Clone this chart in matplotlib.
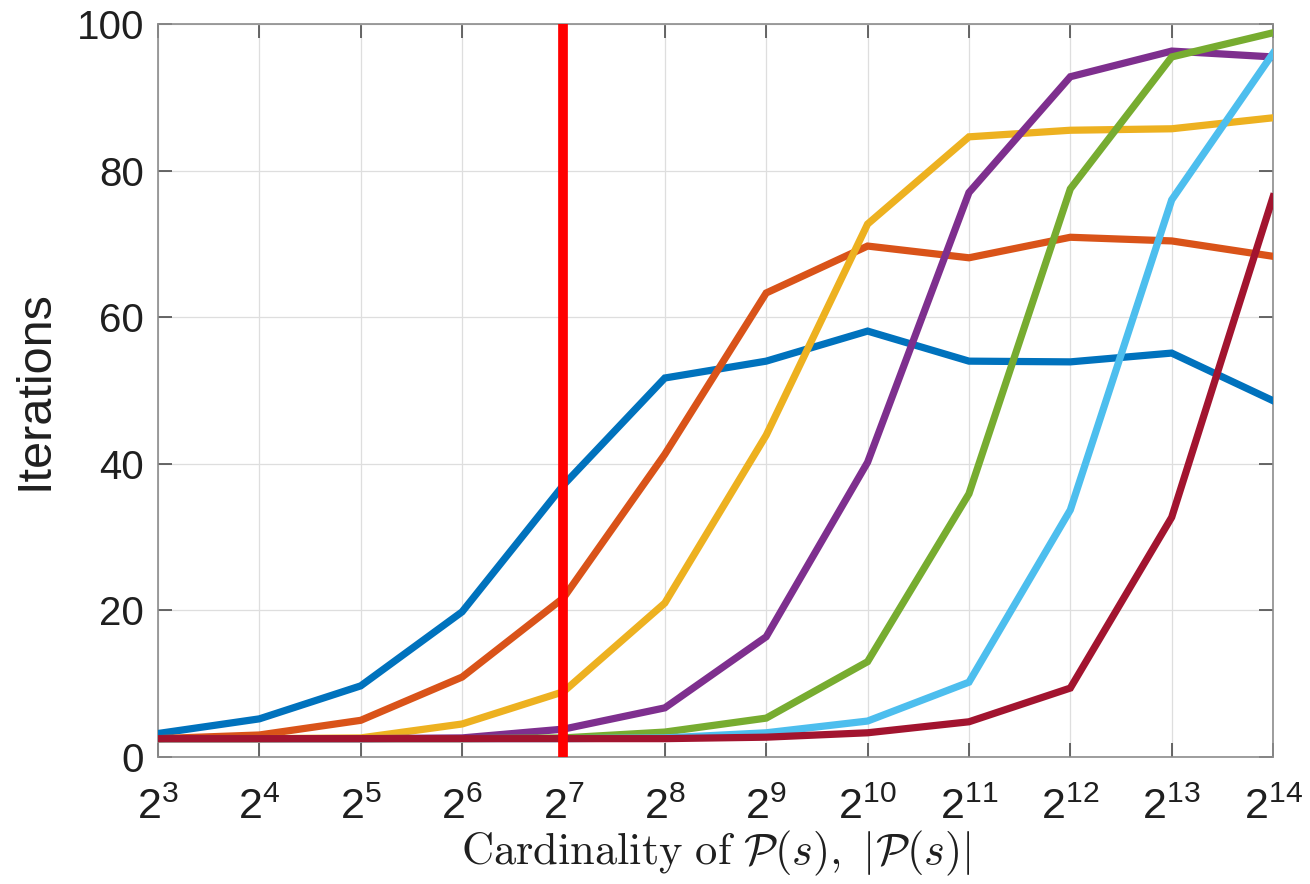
import numpy as np
import matplotlib
matplotlib.use("Agg")
import matplotlib.pyplot as plt

plt.rcParams['font.family'] = ['Liberation Sans', 'DejaVu Sans']
plt.rcParams['mathtext.fontset'] = 'cm'

# set sizes |P(s)| = 2^3 ... 2^14
exps = np.arange(3, 15)
card = 2.0 ** exps

# mean iterations, one curve per configuration
it_1 = [3.2, 5.2, 9.7, 19.8, 37.1, 51.7, 54.0, 58.1, 54.0, 53.9, 55.1, 48.6]
it_2 = [2.5, 3.0, 5.0, 10.9, 21.7, 41.3, 63.3, 69.7, 68.1, 70.9, 70.4, 68.3]
it_3 = [2.5, 2.5, 2.6, 4.5, 8.9, 21.0, 43.9, 72.7, 84.6, 85.5, 85.7, 87.2]
it_4 = [2.5, 2.5, 2.5, 2.6, 3.8, 6.7, 16.4, 40.2, 77.0, 92.8, 96.3, 95.5]
it_5 = [2.5, 2.5, 2.5, 2.5, 2.6, 3.4, 5.3, 13.0, 35.9, 77.5, 95.5, 98.8]
it_6 = [2.5, 2.5, 2.5, 2.5, 2.5, 2.6, 3.3, 4.9, 10.2, 33.7, 76.0, 96.0]
it_7 = [2.5, 2.5, 2.5, 2.5, 2.5, 2.5, 2.7, 3.3, 4.8, 9.4, 32.7, 76.4]
curves = [it_1, it_2, it_3, it_4, it_5, it_6, it_7]

threshold = 2.0 ** 7

colors = [(0, 0.447, 0.741), (0.85, 0.325, 0.098), (0.929, 0.694, 0.125),
          (0.494, 0.184, 0.556), (0.466, 0.674, 0.188), (0.301, 0.745, 0.933),
          (0.635, 0.078, 0.184)]

fig = plt.figure(figsize=(13.1, 8.84), dpi=100)
ax = fig.add_axes([0.1206, 0.1437, 0.8512, 0.8292])

for y, c in zip(curves, colors):
    ax.plot(card, y, color=c, lw=5.2, solid_joinstyle='miter', zorder=3)
ax.axvline(threshold, color=(1, 0, 0), lw=7, zorder=4)

ax.set_xscale('log', base=2)
ax.set_xlim(card[0], card[-1])
ax.set_ylim(0, 100)
ax.set_xticks(card)
ax.set_xticklabels([r'$\mathregular{2^{%d}}$' % e for e in exps])
ax.minorticks_off()
ax.set_yticks(np.arange(0, 101, 20))

ax.grid(True, color='0.87', lw=0.9, zorder=0)
ax.set_axisbelow(True)
for s in ax.spines.values():
    s.set_color('0.55')
    s.set_linewidth(1.2)
ax.tick_params(direction='in', length=10, width=1.2, color='0.3',
               top=True, right=True, labelsize=29, labelcolor='0.12')
ax.tick_params(axis='x', pad=22, labelsize=31)
ax.tick_params(axis='y', pad=10)

xl = ax.set_xlabel(r'$\mathrm{Cardinality\ of\ }\mathcal{P}(s),\ |\mathcal{P}(s)|$',
                   fontsize=32, color='0.12')
xl.set_va('baseline')
ax.xaxis.set_label_coords(0.5, -0.146)
ax.set_ylabel('Iterations', fontsize=35, color='0.12', labelpad=14)

fig.savefig('out.png', dpi=100)
